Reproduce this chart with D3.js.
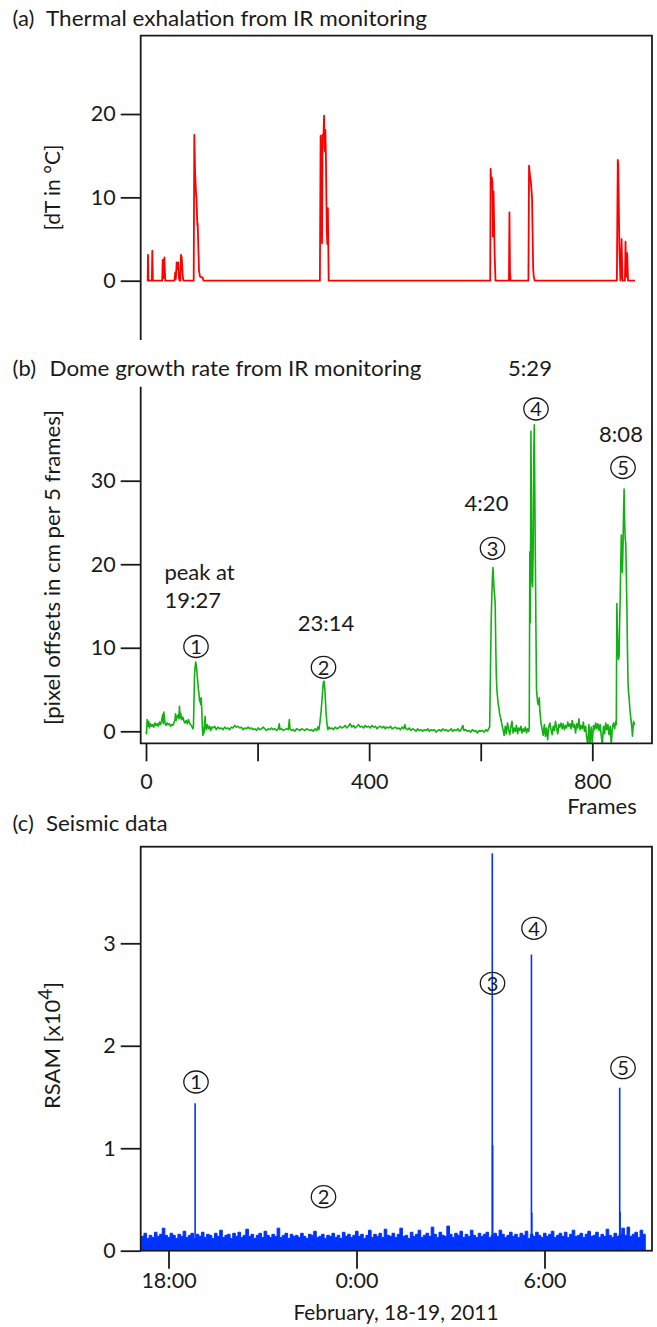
<!DOCTYPE html>
<html><head><meta charset="utf-8">
<script src="https://cdn.jsdelivr.net/npm/d3@7"></script>
<style>
body{margin:0;background:#fff}
svg text{font-family:Lato,'Open Sans',sans-serif;fill:#1a1a1a}
</style>
</head><body>
<svg id="chart" width="657" height="1327"></svg>
<script>
// ---------- DATA ----------
// (a) thermal exhalation: [frame, dT °C]
const thermalData = [[2,0],[3,0],[3.6,3.1],[4.5,0],[10.5,0],[11.3,3.6],[12.3,0],[29,0],[30,2.5],[31,0.3],[33,2.8],[34.5,0],[51,0],[52.4,1.0],[53.5,0.2],[55,2.2],[56,1.4],[57.7,2.2],[59,0.4],[60,0],[61.5,0],[62.7,3.1],[64,2.8],[66,0.5],[67,0],[85.5,0],[86.6,17.5],[88,13],[89.6,10.5],[90.5,9.8],[92,6.7],[92.6,6.9],[95,1.2],[96.8,0.5],[99,0.4],[101.5,0.4],[103,0],[311.7,0],[313,17.4],[314.5,10],[315.5,4.5],[316.5,17.5],[318,17.2],[319.2,19.8],[320,16],[320.8,15.5],[321.5,18.1],[322.5,15],[324,6],[325,4.4],[326,8.7],[327.5,0],[617,0],[617.8,13.4],[619,11.3],[620,12.4],[621,11.8],[622,5.3],[623,10.7],[625,3],[626.5,0],[650.6,0],[651.5,8.2],[652.5,1],[653.6,0],[685.5,0],[686.6,13.8],[688.5,12.5],[690,11.8],[692,9.9],[694,1.5],[695,0.5],[697,0],[844,0],[845.7,14.5],[846.5,14.0],[848.5,4],[850.5,0],[852.5,5.0],[854,0.2],[855,0],[858.5,0],[859.5,4.7],[860.8,0.5],[862.5,3.3],[864,0],[876.5,0]];

// (b) dome growth rate: [frame, pixel offset]
const growthData = [[0,0.0],[1,-0.3],[2,1.4],[3,0.6],[5,1.2],[6,0.4],[8,0.9],[10,0.6],[12,0.8],[14,0.5],[16,1.0],[18,0.7],[20,0.9],[22,0.6],[24,1.1],[26,0.8],[28,1.3],[30,2.0],[31,0.9],[32,2.3],[34,1.0],[36,0.7],[38,1.0],[40,0.8],[42,0.9],[44,0.6],[46,0.8],[48,0.7],[50,1.0],[52,1.4],[53,2.1],[54,1.3],[56,1.8],[58,2.0],[59,1.5],[60,3.0],[61,1.6],[62,2.2],[64,1.4],[66,1.7],[68,1.2],[70,1.0],[72,1.3],[74,0.9],[76,1.4],[78,1.0],[80,0.8],[82,0.6],[84,0.3],
[85,0.5],[86,3.5],[87,6.8],[88,7.6],[89,8.3],[90,8.0],[91,7.4],[92,6.5],[93,5.8],[94,5.0],[95,4.5],[96,3.6],[97,3.9],[98,3.2],[99,4.0],[100,2.5],[101,0.5],[102,-0.5],[103,0.4],[104,-0.2],[105,1.0],[106,1.8],[107,0.5],[108,0.2],[110,0.8],[112,0.3],[114,0.6],[116,0.1],[118,0.5],
[120,0.4],[123,0.6],[126,0.2],[129,0.5],[132,0.3],[135,0.4],[138,0.2],[141,0.5],[144,0.3],[147,0.4],[150,0.2],[153,0.5],[156,0.4],[159,0.7],[162,0.5],[165,0.6],[168,0.4],[171,0.5],[174,0.2],[177,0.4],[180,0.3],[183,0.5],[186,0.3],[189,0.4],[192,0.2],[195,0.3],[198,0.1],[201,0.4],[204,0.2],[207,0.3],[210,0.5],[213,0.3],[216,0.1],[219,0.3],[222,0.2],[225,0.4],[228,0.2],[231,0.3],[234,0.1],[237,0.3],[239,0.9],[240,0.2],[243,0.3],[246,0.1],[249,0.2],[252,0.3],[255,0.2],[257,1.4],[258,0.3],[261,0.1],[264,0.2],[267,0.0],[270,0.3],[273,0.2],[276,0.1],[279,0.3],[282,0.2],[285,0.1],[288,0.3],[291,0.2],[294,0.1],[297,0.2],[300,0.0],[303,0.3],[306,0.1],[308,0.5],
[310,0.2],[312,1.2],[314,2.5],[316,4.2],[317,5.2],[318,5.9],[319,6.0],[320,5.5],[321,4.6],[322,3.2],[323,2.0],[324,1.2],[325,0.6],[326,0.2],[328,0.5],[330,0.3],
[333,0.4],[336,0.2],[339,0.5],[342,0.3],[345,0.4],[348,0.6],[351,0.4],[354,0.5],[357,0.7],[360,0.4],[363,0.6],[366,0.9],[369,0.5],[372,0.7],[375,0.4],[378,0.6],[381,0.8],[384,0.5],[387,0.6],[390,0.4],[393,0.7],[396,0.5],[399,0.6],[402,0.4],[405,0.7],[408,0.5],[411,0.6],[414,0.3],[417,0.5],[420,0.6],[423,0.4],[426,0.6],[429,0.3],[432,0.5],[435,0.4],[438,0.6],[441,0.3],[444,0.4],[447,0.5],[450,0.3],[453,0.4],[456,0.2],[459,0.5],[462,0.3],[464,0.8],[466,0.3],[469,0.2],[472,0.4],[475,0.1],[478,0.3],[481,0.2],[484,0.0],[487,0.3],[490,0.1],[493,0.2],[496,0.0],[499,0.2],[502,0.1],[505,0.3],[508,0.0],[511,0.2],[514,0.1],[517,0.2],[520,-0.1],[523,0.1],[526,0.2],[529,0.0],[532,0.3],[535,0.1],[538,0.2],[541,0.0],[544,0.1],[547,0.3],[550,0.0],[553,0.2],[556,0.1],[559,0.3],[562,0.0],[565,0.2],[568,0.7],[570,0.1],[573,0.2],[576,0.0],[579,0.1],[582,-0.1],[585,0.2],[588,0.0],[591,0.1],[594,-0.2],[597,0.1],[600,0.0],[603,0.1],[606,-0.1],[609,0.2],[612,0.0],[614,0.3],
[616,0.5],[617,5],[618,10],[619,14],[620,16.5],[621,18.5],[622,19.6],[623,18.2],[624,16.9],[625,16.2],[626,15.2],[627,10],[628,6.5],[629,5.0],[630,4.2],[631,3.5],[632,3.0],[633,2.6],[634,2.0],[636,1.5],[638,0.8],[640,0.2],
[642,-0.5],[644,0.6],[646,-0.3],[648,1.0],[650,0.2],[652,-0.4],[654,0.5],[656,1.2],[658,-0.2],[660,0.4],[662,0.0],[664,0.7],[666,-0.3],[668,0.4],[670,0.1],[672,0.6],[674,-0.2],[676,0.3],[678,0.0],[680,0.5],[682,-0.2],[684,0.3],[686,0.0],
[687,0.5],[688,21.5],[689,13],[690,35.9],[691,25],[692,18],[693,17.3],[694,22],[695,33],[696,36.7],[697,28],[698,20],[699,12],[700,5.0],[701,4.2],[702,3.5],[703,3.2],[705,4.0],[706,2.5],[708,1.0],[710,0.3],[712,-0.5],
[714,0.8],[716,-0.6],[718,0.4],[720,-1.0],[722,0.5],[724,1.0],[726,0.2],[728,-0.4],[730,0.6],[732,0.1],[734,1.2],[736,0.4],[738,-0.3],[740,0.8],[742,0.5],[744,1.0],[746,0.3],[748,0.9],[750,0.2],[752,0.7],[754,0.4],[756,1.1],[758,0.6],[760,0.9],[762,0.3],[764,1.3],[766,0.5],[768,0.8],[770,-0.2],[772,0.9],[774,0.4],[776,1.5],[778,0.2],[780,0.7],[782,0.3],[784,1.1],[786,0.0],[788,0.6],[790,-0.8],[792,-1.6],[794,0.8],[796,-1.6],[798,0.5],[800,-1.4],[802,0.7],[804,0.2],[806,1.0],[808,0.3],[810,0.9],[812,0.1],[814,0.8],[816,-0.5],[818,-1.6],[820,0.6],[822,-0.3],[824,1.0],[826,0.2],[828,0.8],[830,-0.4],[832,0.6],[834,-1.6],[836,0.5],[838,1.0],[840,0.3],[842,1.2],
[843,0.8],[844,15.3],[845,12],[846,9.5],[847,8.6],[848,9],[849,13],[850,16],[851,20],[852,23.5],[853,21],[854,19],[855,22],[856,26],[857,29],[858,25],[859,23],[860,22.5],[861,18.7],[862,15],[863,10],[864,6],[865,4.6],[866,4],[867,3],[868,2.2],[869,1.6],[870,1.0],[871,0.3],[872,-0.6],[873,0.4],[874,1.2],[875,0.8],[876,1.0]];

// (c) RSAM background, 5-minute samples from 2011-02-18 17:08 (x10^4)
const rsamStart = "2011-02-18T17:08:00";
const rsamStepMinutes = 5;
const rsamNoise = [
0.14,0.17,0.12,0.15,0.13,0.18,0.14,0.16,0.22,0.15,0.13,0.17,
0.15,0.12,0.16,0.14,0.19,0.13,0.15,0.17,0.12,0.16,0.14,0.18,
0.13,0.16,0.15,0.12,0.17,0.14,0.20,0.13,0.15,0.16,0.12,0.17,
0.14,0.18,0.13,0.15,0.21,0.14,0.16,0.12,0.15,0.17,0.13,0.19,
0.15,0.13,0.16,0.14,0.22,0.13,0.15,0.17,0.12,0.16,0.14,0.15,
0.13,0.17,0.14,0.12,0.16,0.15,0.19,0.13,0.14,0.16,0.12,0.15,
0.14,0.17,0.13,0.15,0.12,0.18,0.14,0.16,0.13,0.15,0.19,0.14,
0.16,0.12,0.15,0.20,0.13,0.16,0.14,0.17,0.13,0.21,0.15,0.14,
0.17,0.13,0.16,0.22,0.14,0.15,0.12,0.18,0.14,0.16,0.20,0.13,
0.15,0.17,0.14,0.23,0.16,0.13,0.18,0.15,0.14,0.24,0.16,0.13,
0.17,0.15,0.19,0.13,0.16,0.14,0.20,0.15,0.13,0.17,0.14,0.16,
0.18,0.13,0.15,0.17,0.14,0.20,0.16,0.13,0.15,0.18,0.14,0.16,
0.13,0.17,0.15,0.19,0.12,0.16,0.14,0.18,0.15,0.13,0.17,0.14,
0.16,0.19,0.13,0.15,0.17,0.14,0.18,0.13,0.16,0.20,0.14,0.15,
0.17,0.13,0.16,0.19,0.14,0.15,0.18,0.13,0.16,0.14,0.21,0.15,
0.13,0.17,0.14,0.16,0.22,0.15,0.23,0.14,0.16,0.18,0.13,0.20,
0.16,0.14];
// (c) RSAM spikes
const rsamSpikeTimes = ["2011-02-18T18:51:00","2011-02-19T04:20:00","2011-02-19T04:20:40","2011-02-19T05:35:00","2011-02-19T05:35:40","2011-02-19T08:24:00","2011-02-19T08:24:40"];
const rsamSpikeValues = [1.44,3.88,1.03,2.89,0.37,1.59,0.38];

// axis ticks
const ticksA = [0,10,20];
const ticksB = [0,10,20,30];
const ticksFrames = [0,200,400,600,800];
const labelFrames = [0,400,800];
const ticksC = [0,1,2,3];
const ticksTime = ["2011-02-18T18:00:00","2011-02-19T00:00:00","2011-02-19T06:00:00"];

// annotations: event numbers and peak times
const eventNumbers = [1,2,3,4,5];
const eventTimesLabel = ["19:27","23:14","4:20","5:29","8:08"];

// ---------- LAYOUT ----------
const L = 140.7, R = 652;
const ink = "#1a1a1a";
const FS_TICK = 21.5, FS_TXT = 22;
const svg = d3.select("#chart");
const parse = d3.isoParse;

const xF = d3.scaleLinear().domain([0,800]).range([146,592.3]);
const yA = d3.scaleLinear().domain([0,20]).range([280.7,114]);
const yB = d3.scaleLinear().domain([0,30]).range([731.3,480.7]);
const xT = d3.scaleTime().domain([parse("2011-02-18T18:00:00"),parse("2011-02-19T06:00:00")]).range([168.5,544.5]);
const yC = d3.scaleLinear().domain([0,3]).range([1250.7,943.3]);

const topA = 35.7, botA = 340, topB = 386.7, botB = 743.3, topC = 846.7, botC = 1250.7;

const defs = svg.append("defs");
defs.append("clipPath").attr("id","clipB").append("rect").attr("x",L).attr("y",topB).attr("width",R-L).attr("height",botB-topB);
defs.append("clipPath").attr("id","clipC").append("rect").attr("x",L).attr("y",topC).attr("width",R-L).attr("height",botC-topC);

function styleAxis(g, fs){
  g.select(".domain").remove();
  g.selectAll(".tick line").attr("stroke",ink).attr("stroke-width",1.8);
  g.selectAll(".tick text").style("font-size",fs+"px");
}

// ---------- PANEL (a) ----------
svg.append("text").attr("x",12.6).attr("y",26).style("font-size",FS_TXT+"px").text("(a)");
svg.append("text").attr("x",46).attr("y",26).style("font-size",FS_TXT+"px")
  .attr("textLength",381).attr("lengthAdjust","spacingAndGlyphs").text("Thermal exhalation from IR monitoring");

svg.append("g").attr("transform",`translate(${L},0)`)
  .call(d3.axisLeft(yA).tickValues(ticksA).tickSize(20).tickPadding(5))
  .call(g=>styleAxis(g,FS_TICK));

svg.append("path").datum(thermalData)
  .attr("fill","none").attr("stroke","#ff0000").attr("stroke-width",1.8).attr("stroke-linejoin","round")
  .attr("d",d3.line().x(d=>xF(d[0])).y(d=>yA(d[1])));

svg.append("text").attr("transform",`translate(60,187.5) rotate(-90)`).attr("text-anchor","middle")
  .style("font-size",FS_TXT+"px").attr("textLength",86).attr("lengthAdjust","spacingAndGlyphs").text("[dT in °C]");

// ---------- PANEL (b) ----------
svg.append("text").attr("x",12.6).attr("y",375.5).style("font-size",FS_TXT+"px").text("(b)");
svg.append("text").attr("x",49.5).attr("y",375.5).style("font-size",FS_TXT+"px")
  .attr("textLength",372).attr("lengthAdjust","spacingAndGlyphs").text("Dome growth rate from IR monitoring");

svg.append("g").attr("transform",`translate(${L},0)`)
  .call(d3.axisLeft(yB).tickValues(ticksB).tickSize(20).tickPadding(5))
  .call(g=>styleAxis(g,FS_TICK));

const xAxB = svg.append("g").attr("transform",`translate(0,${botB})`)
  .call(d3.axisBottom(xF).tickValues(ticksFrames).tickSize(18).tickFormat(d=>labelFrames.includes(d)?d:""))
  .call(g=>styleAxis(g,FS_TICK));
xAxB.selectAll(".tick text").attr("y",45.5).attr("dy",0);
svg.append("text").attr("x",602).attr("y",814).attr("text-anchor","middle").style("font-size",FS_TXT+"px").text("Frames");

svg.append("path").datum(growthData).attr("clip-path","url(#clipB)")
  .attr("fill","none").attr("stroke","#12b012").attr("stroke-width",1.6).attr("stroke-linejoin","round")
  .attr("d",d3.line().x(d=>xF(d[0])).y(d=>yB(d[1])));

svg.append("text").attr("transform",`translate(60,567.5) rotate(-90)`).attr("text-anchor","middle")
  .style("font-size",FS_TXT+"px").attr("textLength",315).attr("lengthAdjust","spacingAndGlyphs").text("[pixel offsets in cm per 5 frames]");

svg.append("path").attr("fill","none").attr("stroke",ink).attr("stroke-width",1.8)
  .attr("d",`M${L},${botA}V${topA}H${R}V${botB}H${L}V${topB}`);

const circPosB = [[196,646.5],[323.5,667.3],[492.5,548.3],[536,409],[623,467.5]];
const timePosB = [[null,null],[326,631],[486.5,510.5],[530,375.5],[621,442]];
function circled(x,y,n){
  svg.append("ellipse").attr("cx",x).attr("cy",y).attr("rx",12.2).attr("ry",11)
    .attr("fill","none").attr("stroke",ink).attr("stroke-width",1.3);
  svg.append("text").attr("x",x).attr("y",y+7.3).attr("text-anchor","middle").style("font-size","20px").text(n);
}
eventNumbers.forEach((n,i)=>{
  circled(circPosB[i][0],circPosB[i][1],n);
  if(i>0) svg.append("text").attr("x",timePosB[i][0]).attr("y",timePosB[i][1]).attr("text-anchor","middle").style("font-size",FS_TXT+"px").text(eventTimesLabel[i]);
});
svg.append("text").attr("x",164.4).attr("y",580).style("font-size",FS_TXT+"px").text("peak at");
svg.append("text").attr("x",164.4).attr("y",607.5).style("font-size",FS_TXT+"px").text(eventTimesLabel[0]);

// ---------- PANEL (c) ----------
svg.append("text").attr("x",12.6).attr("y",831).style("font-size",FS_TXT+"px").text("(c)");
svg.append("text").attr("x",46).attr("y",831).style("font-size",FS_TXT+"px")
  .attr("textLength",121.6).attr("lengthAdjust","spacingAndGlyphs").text("Seismic data");

const t0 = parse(rsamStart);
const noiseSeries = rsamNoise.map((v,i)=>[new Date(t0.getTime()+i*rsamStepMinutes*60000), v]);
const gC = svg.append("g").attr("clip-path","url(#clipC)");
gC.append("path").datum(noiseSeries).attr("fill","#0033ff").attr("stroke","#0033ff").attr("stroke-width",1)
  .attr("d",d3.area().curve(d3.curveStepAfter).x(d=>xT(d[0])).y0(yC(0)).y1(d=>yC(d[1])));
gC.selectAll("line.spike").data(rsamSpikeTimes.map((t,i)=>[parse(t),rsamSpikeValues[i]])).join("line")
  .attr("class","spike").attr("x1",d=>xT(d[0])).attr("x2",d=>xT(d[0]))
  .attr("y1",yC(0)).attr("y2",d=>yC(d[1])).attr("stroke","#0033ff").attr("stroke-width",1.6);

svg.append("g").attr("transform",`translate(${L},0)`)
  .call(d3.axisLeft(yC).tickValues(ticksC).tickSize(20).tickPadding(5).tickFormat(d3.format("d")))
  .call(g=>styleAxis(g,FS_TICK));
const xAxC = svg.append("g").attr("transform",`translate(0,${botC})`)
  .call(d3.axisBottom(xT).tickValues(ticksTime.map(parse)).tickSize(18).tickFormat(d3.timeFormat("%-H:%M")))
  .call(g=>styleAxis(g,FS_TICK));
xAxC.selectAll(".tick text").attr("y",37.5).attr("dy",0);

svg.append("rect").attr("x",L).attr("y",topC).attr("width",R-L).attr("height",botC-topC)
  .attr("fill","none").attr("stroke",ink).attr("stroke-width",1.8);

svg.append("text").attr("x",396).attr("y",1320).attr("text-anchor","middle").style("font-size",FS_TXT+"px")
  .attr("textLength",205).attr("lengthAdjust","spacingAndGlyphs").text("February, 18-19, 2011");

const rs = svg.append("text").attr("transform",`translate(60,1045.5) rotate(-90)`).attr("text-anchor","middle").style("font-size",FS_TXT+"px");
rs.append("tspan").text("RSAM [x10");
rs.append("tspan").attr("dy",-8).style("font-size","19px").text("4");
rs.append("tspan").attr("dy",8).text("]");

const circPosCY = [1082,1196.7,983.3,928.3,1067.7];
const circPosCX = [196,323.5,492.5,534,623];
eventNumbers.forEach((n,i)=>circled(circPosCX[i],circPosCY[i],n));
</script>
</body></html>
